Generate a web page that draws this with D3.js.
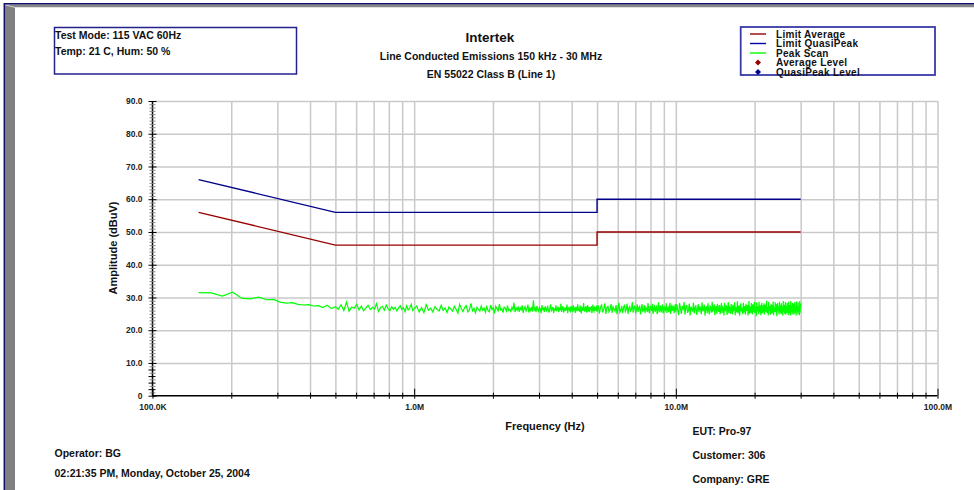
<!DOCTYPE html>
<html lang="en">
<head>
<meta charset="UTF-8">
<title>Line Conducted Emissions</title>
<script src="https://cdn.jsdelivr.net/npm/d3@7/dist/d3.min.js"></script>
<style>
  body, html { margin: 0; background: #fff; }
  svg { display: block; font-family: "Liberation Sans", Arial, sans-serif; font-weight: bold; }
</style>
</head>
<body>
<svg width="974" height="490"></svg>
<script>
// limit lines (EN 55022 class B)
const limitFreq = [150e3, 500e3, 5e6, 5e6, 30e6];
const qpLimit   = [66, 56, 56, 60, 60];
const avgLimit  = [56, 46, 46, 50, 50];

// peak scan, swept in segments (start/stop Hz, levels dBuV evenly spaced in each)
const segStart = [150e3, 500e3, 1e6, 5e6, 10e6];
const segStop  = [500e3, 1e6, 5e6, 10e6, 30e6];
const scanA = [31.5,31.4,30.4,31.6,29.7,29.6,30.1,29.3,29.4,28.6,28.3,28.4,27.9,27.7,27.8,27.4,27.5,26.9,27.6,26.6,27.2];
const scanB = [27.2,26.4,27.8,26.0,28.6,25.8,27.1,26.7,27.9,26.2,27.4,25.9,26.8,27.6,26.3,27.0,26.5,28.1,25.7,26.9,
               27.3,26.1,27.7,26.6,26.0,27.2,26.4,27.0,25.9,26.8,27.5,26.3,26.9,25.6,27.4,26.2,26.7,27.9,26.0,26.6];
const scanC = [26.2,27.4,25.6,26.9,25.3,27.8,26.1,26.7,25.5,27.2,26.4,25.9,27.6,26.0,26.8,25.4,27.1,26.5,25.8,27.3,
               26.3,25.2,27.9,26.6,25.7,26.9,27.5,25.6,26.2,28.2,25.9,26.7,25.3,27.0,26.4,25.8,27.4,26.1,26.8,25.5,
               27.2,26.0,25.6,27.7,26.3,26.9,25.1,27.3,26.5,25.9,28.0,26.2,26.6,25.4,27.1,26.7,25.8,27.5,26.0,26.4,
               25.7,27.0,26.3,28.4,25.5,26.8,26.1,27.3,25.6,26.9,26.2,27.6,25.3,26.5,27.2,25.9,26.6,27.8,25.4,26.7,
               26.0,27.1,25.7,29.1,26.2,26.8,25.5,27.4,26.3,25.8,27.0,26.6,25.2,27.7,26.1,26.9,25.6,27.3,26.4,25.9,
               27.5,26.2,25.4,26.8,27.9,25.7,26.5,27.1,25.3,26.7,26.0,27.6,25.8,26.4,27.2,25.5,26.9,26.1,28.1,25.6,
               26.7,27.3,25.4,26.2,27.0,25.9,26.6,27.8,25.2,26.5,27.1,26.0,25.7,27.4,26.3,26.8,25.5,27.6,26.1,26.9,
               25.3,27.2,26.4,25.8,27.9,26.0,26.7,25.6,27.5,26.2,25.1,27.0,26.6,25.9,28.3,26.3,25.7,26.8,27.3,25.4,
               26.5,27.7,25.8,26.1,27.1,25.5,26.9,26.3,27.4,25.2,26.6,27.8,26.0,25.7,27.2,26.4,25.9,26.8,27.5,25.6];
const scanD = [26.0,27.6,25.1,26.8,27.9,25.4,26.5,28.2,25.0,26.9,27.3,25.6,26.2,28.0,25.3,27.1,26.4,25.8,27.7,24.9,
               26.6,28.4,25.5,26.1,27.4,25.2,26.9,27.8,25.7,26.3,28.1,25.0,26.7,27.2,25.9,26.4,28.6,25.4,26.8,27.5,
               25.1,26.2,27.9,25.6,26.9,27.3,24.8,26.5,28.0,25.8,26.1,27.6,25.3,27.0,26.6,25.5,28.3,26.0,25.2,27.4,
               26.7,25.9,28.1,25.0,26.4,27.7,25.6,26.8,27.2,24.9,26.3,28.5,25.7,26.0,27.5,25.4,26.9,27.9,25.1,26.5,
               27.3,25.8,26.2,28.2,25.3,26.7,27.0,25.5,26.6,28.4,25.0,26.1,27.8,25.9,26.8,27.4,25.2,26.4,28.0,25.6];
const scanE = [25.4,27.9,26.1,24.6,28.3,26.7,25.0,27.4,26.3,28.6,24.8,26.9,27.7,25.3,26.0,28.1,24.5,27.2,26.5,25.7,
               28.4,25.1,26.8,27.6,24.7,26.2,28.0,25.5,27.3,26.6,24.9,28.5,25.8,26.4,27.8,24.4,26.9,27.1,25.2,28.2,
               26.0,24.8,27.5,26.7,25.4,28.7,25.9,26.3,27.9,24.6,26.8,27.4,25.0,28.1,26.2,25.6,27.7,24.9,26.5,28.3,
               25.3,27.0,26.6,24.5,28.4,25.8,26.9,27.6,24.7,26.1,28.6,25.2,27.3,26.4,25.0,28.0,26.7,24.8,27.8,25.9,
               26.3,28.5,24.6,27.1,26.0,25.5,28.8,25.1,26.8,27.5,24.4,26.6,28.2,25.7,27.0,26.2,24.9,28.4,25.4,27.4,
               26.5,24.7,28.1,25.9,26.9,27.7,24.5,26.3,28.9,25.0,27.2,26.7,25.3,28.3,26.0,24.8,27.9,25.6,26.4,28.6,
               25.2,27.0,26.8,24.3,28.5,25.8,27.3,26.1,24.9,28.7,25.5,26.6,27.6,24.6,26.2,28.4,25.1,27.5,26.9,25.4,
               28.2,24.8,26.5,27.8,25.7,26.0,29.0,25.3,27.1,26.4,24.5,28.6,25.9,26.8,27.4,24.7,26.3,28.1,25.0,27.7,
               26.6,25.2,28.8,24.6,27.0,26.2,25.6,28.5,25.4,26.9,27.9,24.3,26.7,28.3,25.8,27.2,26.0,24.8,28.7,25.5,
               27.6,26.4,24.9,28.2,25.1,26.8,27.3,24.4,28.9,25.7,26.5,27.8,25.0,26.1,28.6,24.7,27.4,26.3,25.3,28.4,
               25.9,27.1,24.6,28.7,26.6,25.2,27.7,26.0,24.5,28.9,25.6,26.9,27.5,24.8,28.3,26.2,25.4,28.1,24.7,27.9,
               26.4,28.6,25.1,26.7,27.3,24.4,28.8,25.8,26.3,27.6,24.9,28.5,25.5,27.0,26.1,24.6,28.9,25.3,27.4,28.2];
const scanSegs = [scanA, scanB, scanC, scanD, scanE];

// axis ticks
const xMajor = [1e5, 1e6, 1e7, 1e8];
const xMajorLabels = ["100.0K", "1.0M", "10.0M", "100.0M"];
const xMinor = [2e5,3e5,4e5,5e5,6e5,7e5,8e5,9e5, 2e6,3e6,4e6,5e6,6e6,7e6,8e6,9e6, 2e7,3e7,4e7,5e7,6e7,7e7,8e7,9e7];
const yMajor = [0,10,20,30,40,50,60,70,80,90];
const yMajorLabels = ["0","10.0","20.0","30.0","40.0","50.0","60.0","70.0","80.0","90.0"];

const legendNames = ["Limit Average", "Limit QuasiPeak", "Peak Scan", "Average Level", "QuasiPeak Level"];
const infoLeft = ["Test Mode: 115 VAC 60Hz", "Temp: 21 C, Hum: 50 %"];
const footLeft = ["Operator: BG", "02:21:35 PM, Monday, October 25, 2004"];
const footRight = ["EUT: Pro-97", "Customer: 306", "Company: GRE"];

const svg = d3.select('svg');
const x = d3.scaleLog().domain([1e5, 1e8]).range([152.5, 937.5]);
const y = d3.scaleLinear().domain([0, 90]).range([395.7, 101]);
const yBot = y(0), yTop = y(90);

// page frame
svg.append('polygon').attr('points', '5,4.5 974,4.5 974,7.3 15,7.3').attr('fill', '#868686');
svg.append('polygon').attr('points', '5,4.5 15,7.3 15,490 5,490').attr('fill', '#808080');
svg.append('line').attr('x1', 5).attr('y1', 4.8).attr('x2', 15).attr('y2', 7.5).attr('stroke', '#c8c8c8').attr('stroke-width', 1);
svg.append('line').attr('x1', 4).attr('y1', 3.8).attr('x2', 974).attr('y2', 3.8).attr('stroke', '#10106a').attr('stroke-width', 1.5);
svg.append('line').attr('x1', 4.3).attr('y1', 3).attr('x2', 4.3).attr('y2', 490).attr('stroke', '#10106a').attr('stroke-width', 1.5);

// grid
const gx = svg.append('g').attr('transform', `translate(0,${yBot})`)
  .call(d3.axisBottom(x).tickValues(xMinor.concat(xMajor.slice(1))).tickSize(-(yBot - yTop)).tickFormat(''));
gx.select('.domain').remove();
gx.selectAll('line').attr('stroke', '#c9c9c9').attr('stroke-width', 1.5);
const gy = svg.append('g').attr('transform', `translate(${x.range()[0]},0)`)
  .call(d3.axisLeft(y).tickValues(yMajor.slice(1)).tickSize(-(x.range()[1] - x.range()[0])).tickFormat(''));
gy.select('.domain').remove();
gy.selectAll('line').attr('stroke', '#c9c9c9').attr('stroke-width', 1.5);

// limits
const limLine = d3.line().x(d => x(d[0])).y(d => y(d[1]));
svg.append('path').datum(d3.zip(limitFreq, avgLimit)).attr('d', limLine)
  .attr('fill', 'none').attr('stroke', '#990000').attr('stroke-width', 1.4);
svg.append('path').datum(d3.zip(limitFreq, qpLimit)).attr('d', limLine)
  .attr('fill', 'none').attr('stroke', '#000088').attr('stroke-width', 1.4);

// peak scan
const scanPts = [];
scanSegs.forEach((lv, s) => {
  const f = d3.scaleLinear().domain([0, lv.length - 1]).range([segStart[s], segStop[s]]);
  lv.forEach((v, i) => { if (s === 0 || i > 0) scanPts.push([f(i), v]); });
});
svg.append('path').datum(scanPts).attr('d', limLine)
  .attr('fill', 'none').attr('stroke', '#00ff00').attr('stroke-width', 1.2);

// y axis
const ya = svg.append('g').attr('transform', `translate(${x.range()[0]},0)`)
  .call(d3.axisLeft(y).tickValues(yMajor).tickSize(4).tickPadding(6).tickFormat((d, i) => yMajorLabels[i]));
ya.select('.domain').attr('d', `M0,${yTop}V${yBot}`).attr('stroke', '#000').attr('stroke-width', 1.5);
ya.selectAll('line').attr('x1', 4).attr('x2', -4).attr('stroke', '#000');
ya.selectAll('text').attr('font-size', 8.5).attr('font-family', null).attr('fill', '#222');
const yMinor = d3.range(1, 90).filter(v => v % 10 !== 0);
svg.append('g').attr('transform', `translate(${x.range()[0]},0)`)
  .call(d3.axisLeft(y).tickValues(yMinor).tickSize(3).tickFormat(''))
  .call(g => g.select('.domain').remove())
  .selectAll('line').attr('x1', 3).attr('x2', d => d < 10 && d % 2 === 0 ? -4 : -3)
  .attr('stroke', d => d < 10 && d % 2 === 0 ? '#000' : '#888').attr('stroke-width', 1);

// x axis
const xa = svg.append('g').attr('transform', `translate(0,${yBot})`)
  .call(d3.axisBottom(x).tickValues(xMajor).tickSize(3).tickPadding(5).tickFormat((d, i) => xMajorLabels[i]));
xa.select('.domain').attr('d', `M${x.range()[0]},0H${x.range()[1]}`).attr('stroke', '#000').attr('stroke-width', 1.5);
xa.selectAll('line').attr('y1', -7).attr('y2', 3).attr('stroke', '#000');
xa.selectAll('text').attr('font-size', 8.5).attr('font-family', null).attr('fill', '#222');
svg.append('g').attr('transform', `translate(0,${yBot})`)
  .call(d3.axisBottom(x).tickValues(xMinor).tickSize(3).tickFormat(''))
  .call(g => g.select('.domain').remove())
  .selectAll('line').attr('y1', -3).attr('stroke', '#000');

// axis titles
svg.append('text').attr('x', 545).attr('y', 429.5).attr('text-anchor', 'middle')
  .attr('font-size', 11).attr('fill', '#111').text('Frequency (Hz)');
svg.append('text').attr('transform', 'translate(116.5,248) rotate(-90)').attr('text-anchor', 'middle')
  .attr('font-size', 11).attr('fill', '#111').text('Amplitude (dBuV)');

// titles
svg.append('text').attr('x', 490).attr('y', 41.5).attr('text-anchor', 'middle').attr('font-size', 13.5).attr('fill', '#111').text('Intertek');
svg.append('text').attr('x', 491).attr('y', 59.5).attr('text-anchor', 'middle').attr('font-size', 10.5).attr('fill', '#111').text('Line Conducted Emissions 150 kHz - 30 MHz');
svg.append('text').attr('x', 491).attr('y', 78).attr('text-anchor', 'middle').attr('font-size', 10.5).attr('fill', '#111').text('EN 55022 Class B (Line 1)');

// info box
svg.append('rect').attr('x', 54.5).attr('y', 27.5).attr('width', 242).attr('height', 46.5)
  .attr('fill', 'none').attr('stroke', '#22228a').attr('stroke-width', 1.5);
svg.selectAll('.info').data(infoLeft).enter().append('text')
  .attr('x', 55).attr('y', (d, i) => 39 + i * 16).attr('font-size', 10.5).attr('fill', '#111').text(d => d);

// legend
svg.append('rect').attr('x', 740.7).attr('y', 27).attr('width', 194.3).attr('height', 48)
  .attr('fill', 'none').attr('stroke', '#3a3aa8').attr('stroke-width', 1.8);
const legColors = ['#990000', '#0000aa', '#00ff00', '#990000', '#000099'];
const lg = svg.selectAll('.leg').data(legendNames).enter().append('g')
  .attr('transform', (d, i) => `translate(0,${34 + i * 9.5})`);
lg.filter((d, i) => i < 3).append('line').attr('x1', 750).attr('x2', 766)
  .attr('stroke', (d, i) => legColors[i]).attr('stroke-width', 1.4);
lg.filter((d, i) => i >= 3).append('path').attr('d', 'M758,-3L761,0L758,3L755,0Z')
  .attr('fill', (d, i) => legColors[i + 3]);
lg.append('text').attr('x', 776).attr('dy', '0.35em').attr('font-size', 10).attr('letter-spacing', 0.3)
  .attr('fill', '#111').text(d => d);

// footer
svg.selectAll('.fl').data(footLeft).enter().append('text')
  .attr('x', 54.5).attr('y', (d, i) => 457 + i * 20).attr('font-size', 10.5).attr('fill', '#111').text(d => d);
svg.selectAll('.fr').data(footRight).enter().append('text')
  .attr('x', 692.5).attr('y', (d, i) => 435 + i * 24).attr('font-size', 10.5).attr('fill', '#111').text(d => d);
</script>
</body>
</html>
